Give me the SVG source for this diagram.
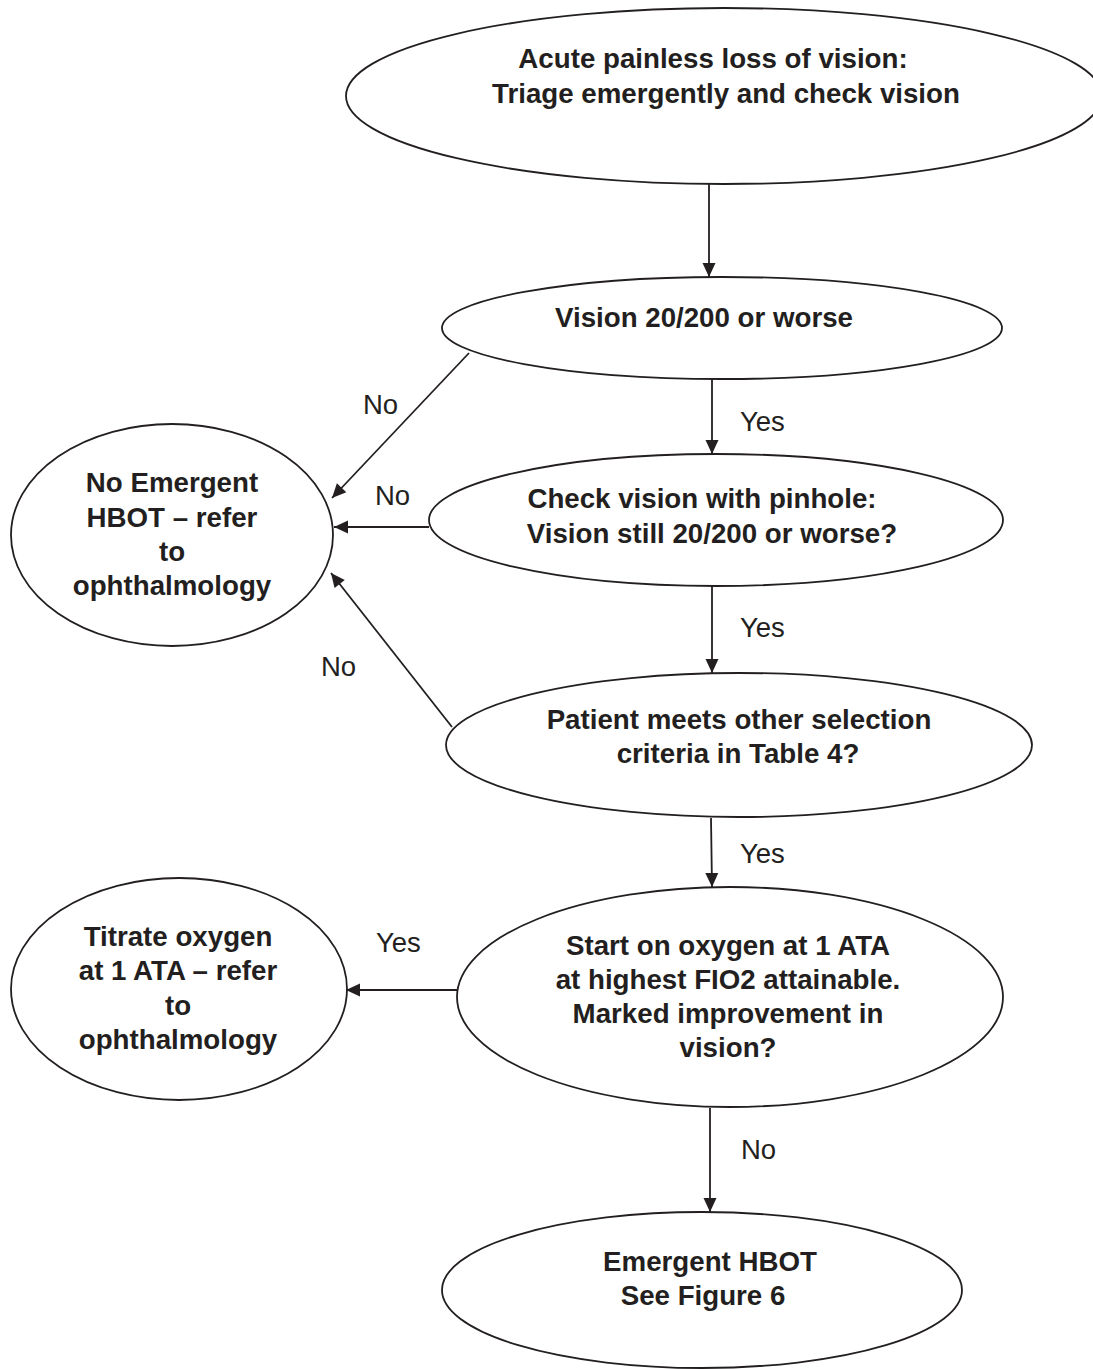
<svg xmlns="http://www.w3.org/2000/svg" width="1093" height="1369" viewBox="0 0 1093 1369">
<style>
.node{fill:#fff;stroke:#231f20;stroke-width:1.8}
.t{font-family:"Liberation Sans",Arial,sans-serif;font-weight:bold;font-size:27.7px;fill:#231f20;text-anchor:middle}
.lbl{font-family:"Liberation Sans",Arial,sans-serif;font-size:27.5px;fill:#231f20}
.edge{stroke:#231f20;stroke-width:1.8;fill:none;marker-end:url(#ah)}
</style>
<defs>
<marker id="ah" markerUnits="userSpaceOnUse" markerWidth="16" markerHeight="16" viewBox="0 0 16 16" refX="15" refY="8" orient="auto">
<path d="M1,1.5 L15,8 L1,14.5 Z" fill="#231f20"/>
</marker>
</defs>
<rect width="1093" height="1369" fill="#fff"/>
<g id="n-start">
<ellipse class="node" cx="724" cy="96" rx="378" ry="88"/>
<text class="t" x="713" y="68">Acute painless loss of vision:</text>
<text class="t" x="726" y="103">Triage emergently and check vision</text>
</g>
<g id="n-vision">
<ellipse class="node" cx="722" cy="328" rx="280" ry="51"/>
<text class="t" x="704" y="327">Vision 20/200 or worse</text>
</g>
<g id="n-pinhole">
<ellipse class="node" cx="716" cy="520" rx="287" ry="66"/>
<text class="t" x="702" y="508">Check vision with pinhole:</text>
<text class="t" x="712" y="543">Vision still 20/200 or worse?</text>
</g>
<g id="n-criteria">
<ellipse class="node" cx="739" cy="745" rx="293" ry="72"/>
<text class="t" x="739" y="729">Patient meets other selection</text>
<text class="t" x="738" y="763">criteria in Table 4?</text>
</g>
<g id="n-oxygen">
<ellipse class="node" cx="730" cy="997" rx="273" ry="110"/>
<text class="t" x="728" y="955">Start on oxygen at 1 ATA</text>
<text class="t" x="728" y="989">at highest FIO2 attainable.</text>
<text class="t" x="728" y="1023">Marked improvement in</text>
<text class="t" x="728" y="1057">vision?</text>
</g>
<g id="n-hbot">
<ellipse class="node" cx="702" cy="1290" rx="260" ry="78"/>
<text class="t" x="710" y="1271">Emergent HBOT</text>
<text class="t" x="703" y="1305">See Figure 6</text>
</g>
<g id="n-noemergent">
<ellipse class="node" cx="172" cy="535" rx="161" ry="111"/>
<text class="t" x="172" y="492">No Emergent</text>
<text class="t" x="172" y="527">HBOT – refer</text>
<text class="t" x="172" y="561">to</text>
<text class="t" x="172" y="595">ophthalmology</text>
</g>
<g id="n-titrate">
<ellipse class="node" cx="179" cy="989" rx="168" ry="111"/>
<text class="t" x="178" y="946">Titrate oxygen</text>
<text class="t" x="178" y="980">at 1 ATA – refer</text>
<text class="t" x="178" y="1015">to</text>
<text class="t" x="178" y="1049">ophthalmology</text>
</g>
<g id="connectors">
<line class="edge" x1="709" y1="184" x2="709" y2="277"/>
<line class="edge" x1="712" y1="379" x2="712" y2="454"/>
<line class="edge" x1="712" y1="586" x2="712" y2="673"/>
<line class="edge" x1="711" y1="818" x2="712" y2="887"/>
<line class="edge" x1="710" y1="1108" x2="710" y2="1212"/>
<line class="edge" x1="469" y1="353" x2="332" y2="498"/>
<line class="edge" x1="429" y1="527" x2="334" y2="527"/>
<line class="edge" x1="452" y1="727" x2="331" y2="573"/>
<line class="edge" x1="457" y1="990" x2="346" y2="990"/>
<text class="lbl" x="740" y="431">Yes</text>
<text class="lbl" x="740" y="637">Yes</text>
<text class="lbl" x="740" y="863">Yes</text>
<text class="lbl" x="741" y="1159">No</text>
<text class="lbl" x="363" y="414">No</text>
<text class="lbl" x="375" y="505">No</text>
<text class="lbl" x="321" y="676">No</text>
<text class="lbl" x="376" y="952">Yes</text>
</g>
</svg>
